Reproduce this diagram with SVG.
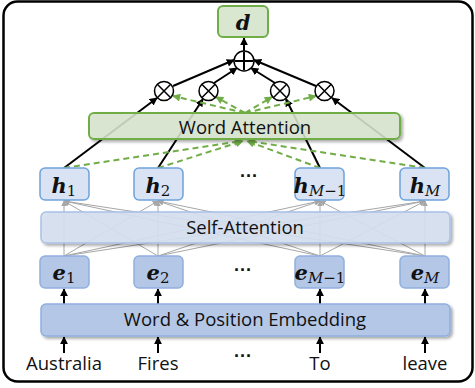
<svg xmlns="http://www.w3.org/2000/svg" width="475" height="388" viewBox="0 0 475 388">
<defs>
<marker id="ab" viewBox="0 0 10 10" refX="9" refY="5" markerWidth="8" markerHeight="8" markerUnits="userSpaceOnUse" orient="auto"><path d="M0,0 L10,5 L0,10 z" fill="#000"/></marker>
<marker id="ag" viewBox="0 0 10 10" refX="9" refY="5" markerWidth="9" markerHeight="8" markerUnits="userSpaceOnUse" orient="auto"><path d="M0,0 L10,5 L0,10 z" fill="#70ad47"/></marker>
<marker id="ay" viewBox="0 0 10 10" refX="9" refY="5" markerWidth="6" markerHeight="6" markerUnits="userSpaceOnUse" orient="auto"><path d="M0,0 L10,5 L0,10 z" fill="#a6a6a6"/></marker>
<filter id="sh" x="-10%" y="-30%" width="120%" height="170%"><feDropShadow dx="2" dy="2" stdDeviation="1.5" flood-color="#000" flood-opacity="0.35"/></filter>
</defs>
<style>
.lbl{font-family:"Open Sans","Liberation Sans",sans-serif;font-size:18.5px;fill:#111;text-anchor:middle}
.m{font-family:"DejaVu Serif","Liberation Serif",serif;font-weight:bold;font-style:italic;font-size:21px;fill:#111;text-anchor:middle}
.sub{font-weight:normal;font-style:normal;font-size:15px}
.subi{font-weight:normal;font-style:italic;font-size:15px}
.blk{stroke:#000;stroke-width:2;fill:none}
.grn{stroke:#70ad47;stroke-width:2;stroke-dasharray:6 4;fill:none}
.gry{stroke:#a6a6a6;stroke-width:1;fill:none}
.hb{fill:#dae3f3;stroke:#6fa3dc;stroke-width:1.5}
.eb{fill:#b4c7e7;stroke:#8fb0de;stroke-width:1.5}
.gb{fill:#d9e7d0;stroke:#70ad47;stroke-width:2}
.op{fill:#fff;stroke:#000;stroke-width:1.5}
.dots{font-family:"Liberation Sans",sans-serif;font-size:18px;font-weight:bold;fill:#111;text-anchor:middle}
</style>
<rect x="3.5" y="1.5" width="469" height="380" rx="14" fill="#fff" stroke="#000" stroke-width="2.5"/>
<g id="connectors">
<g class="gry" marker-end="url(#ay)">
<line x1="64" y1="256" x2="64" y2="201"/><line x1="64" y1="256" x2="158" y2="201"/><line x1="64" y1="256" x2="320" y2="201"/><line x1="64" y1="256" x2="425" y2="201"/>
<line x1="158" y1="256" x2="64" y2="201"/><line x1="158" y1="256" x2="158" y2="201"/><line x1="158" y1="256" x2="320" y2="201"/><line x1="158" y1="256" x2="425" y2="201"/>
<line x1="320" y1="256" x2="64" y2="201"/><line x1="320" y1="256" x2="158" y2="201"/><line x1="320" y1="256" x2="320" y2="201"/><line x1="320" y1="256" x2="425" y2="201"/>
<line x1="425" y1="256" x2="64" y2="201"/><line x1="425" y1="256" x2="158" y2="201"/><line x1="425" y1="256" x2="320" y2="201"/><line x1="425" y1="256" x2="425" y2="201"/>
</g>
<g class="blk" marker-end="url(#ab)">
<line x1="64" y1="168" x2="157" y2="98"/>
<line x1="158" y1="168" x2="203" y2="99"/>
<line x1="320" y1="168" x2="286" y2="99"/>
<line x1="425" y1="168" x2="332" y2="98"/>
<line x1="173" y1="86" x2="234" y2="60"/>
<line x1="214" y1="83" x2="237" y2="68"/>
<line x1="275" y1="83" x2="251" y2="68"/>
<line x1="316" y1="86" x2="254" y2="60"/>
<line x1="244" y1="51" x2="244" y2="38"/>
<line x1="64" y1="304" x2="64" y2="289"/>
<line x1="158" y1="304" x2="158" y2="289"/>
<line x1="320" y1="304" x2="320" y2="289"/>
<line x1="425" y1="304" x2="425" y2="289"/>
<line x1="64" y1="353" x2="64" y2="337"/>
<line x1="158" y1="353" x2="158" y2="337"/>
<line x1="320" y1="353" x2="320" y2="337"/>
<line x1="425" y1="353" x2="425" y2="337"/>
</g>
<g class="grn" marker-end="url(#ag)">
<line x1="64" y1="168" x2="242" y2="141"/>
<line x1="158" y1="168" x2="243" y2="141"/>
<line x1="320" y1="168" x2="247" y2="141"/>
<line x1="425" y1="168" x2="248" y2="141"/>
<line x1="245" y1="113" x2="173" y2="96"/>
<line x1="245" y1="113" x2="216" y2="97"/>
<line x1="245" y1="113" x2="272" y2="97"/>
<line x1="245" y1="113" x2="316" y2="96"/>
</g>
</g>
<g id="d"><rect x="218" y="6" width="50" height="31" rx="5" class="gb" stroke-width="1.5"/><text x="243" y="30" class="m" font-size="22">d</text></g>
<g id="plus"><circle cx="244" cy="61" r="10" class="op"/><path d="M235,61 H253 M244,52 V70" stroke="#000" stroke-width="2"/></g>
<g id="mul1"><circle cx="164" cy="91" r="9.5" class="op"/><path d="M157.3,84.3 L170.7,97.7 M170.7,84.3 L157.3,97.7" stroke="#000" stroke-width="1.5"/></g>
<g id="mul2"><circle cx="208.5" cy="91" r="9.5" class="op"/><path d="M201.8,84.3 L215.2,97.7 M215.2,84.3 L201.8,97.7" stroke="#000" stroke-width="1.5"/></g>
<g id="mul3"><circle cx="280" cy="91" r="9.5" class="op"/><path d="M273.3,84.3 L286.7,97.7 M286.7,84.3 L273.3,97.7" stroke="#000" stroke-width="1.5"/></g>
<g id="mul4"><circle cx="324.5" cy="91" r="9.5" class="op"/><path d="M317.8,84.3 L331.2,97.7 M331.2,84.3 L317.8,97.7" stroke="#000" stroke-width="1.5"/></g>
<g id="word-attention"><rect x="89" y="113" width="311" height="26" rx="5" class="gb" fill-opacity="0.85" filter="url(#sh)"/><text x="245" y="134" class="lbl">Word Attention</text></g>
<g id="h1"><rect x="40" y="168" width="49" height="32" rx="5" class="hb"/><text x="64" y="193" class="m">h<tspan class="sub" dy="3">1</tspan></text></g>
<g id="h2"><rect x="134" y="168" width="49" height="32" rx="5" class="hb"/><text x="158" y="193" class="m">h<tspan class="sub" dy="3">2</tspan></text></g>
<text x="249" y="182" class="dots">···</text>
<g id="hM1"><rect x="295" y="168" width="49" height="32" rx="5" class="hb"/><text x="320" y="193" class="m">h<tspan class="subi" dy="3">M</tspan><tspan class="sub">−1</tspan></text></g>
<g id="hM"><rect x="400" y="168" width="49" height="32" rx="5" class="hb"/><text x="425" y="193" class="m">h<tspan class="subi" dy="3">M</tspan></text></g>
<g id="self-attention"><rect x="41" y="212" width="409" height="31" rx="5" fill="#d6e1f1" fill-opacity="0.9" stroke="#a9c1e6" stroke-width="1.5" filter="url(#sh)"/><text x="245" y="234" class="lbl">Self-Attention</text></g>
<g id="e1"><rect x="40" y="256" width="49" height="32" rx="5" class="eb"/><text x="64" y="280" class="m">e<tspan class="sub" dy="3">1</tspan></text></g>
<g id="e2"><rect x="134" y="256" width="49" height="32" rx="5" class="eb"/><text x="158" y="280" class="m">e<tspan class="sub" dy="3">2</tspan></text></g>
<text x="243" y="276" class="dots">···</text>
<g id="eM1"><rect x="295" y="256" width="49" height="32" rx="5" class="eb"/><text x="320" y="280" class="m">e<tspan class="subi" dy="3">M</tspan><tspan class="sub">−1</tspan></text></g>
<g id="eM"><rect x="400" y="256" width="49" height="32" rx="5" class="eb"/><text x="425" y="280" class="m">e<tspan class="subi" dy="3">M</tspan></text></g>
<g id="embedding"><rect x="41" y="304" width="409" height="32" rx="5" fill="#b4c7e7" stroke="#8fb0de" stroke-width="1.5" filter="url(#sh)"/><text x="245" y="326" class="lbl">Word &amp; Position Embedding</text></g>
<g id="w1"><text x="64" y="370" class="lbl">Australia</text></g>
<g id="w2"><text x="158" y="370" class="lbl">Fires</text></g>
<text x="243" y="362" class="dots">···</text>
<g id="w3"><text x="320" y="370" class="lbl">To</text></g>
<g id="w4"><text x="425" y="370" class="lbl">leave</text></g>
</svg>
